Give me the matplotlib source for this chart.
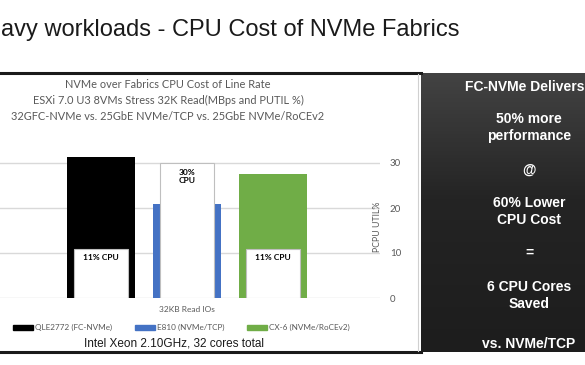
import numpy as np
import matplotlib.pyplot as plt
from matplotlib.lines import Line2D
from matplotlib.patches import Rectangle
from matplotlib.colors import LinearSegmentedColormap

# data
series = ['QLE2772 (FC-NVMe)', 'E810 (NVMe/TCP)', 'CX-6 (NVMe/RoCEv2)']
throughput = [31.3, 20.9, 27.6]   # bar heights, read on the PCPU scale
cpu_util = [11, 30, 11]
cpu_labels = ['11% CPU', '30%\nCPU', '11% CPU']
colors = ['#000000', '#4472C4', '#70AD47']
category = '32KB Read IOs'
yticks = [0, 10, 20, 30]

chart_title = ['NVMe over Fabrics CPU Cost of Line Rate',
               'ESXi 7.0 U3 8VMs Stress 32K Read(MBps and PUTIL %)',
               '32GFC-NVMe vs. 25GbE NVMe/TCP vs. 25GbE NVMe/RoCEv2']
panel_lines = ['FC-NVMe Delivers', '50% more', 'performance', '@',
               '60% Lower', 'CPU Cost', '=', '6 CPU Cores', 'Saved',
               'vs. NVMe/TCP']

W, H = 585, 365
fig = plt.figure(figsize=(W / 100, H / 100), dpi=100)
fig.patch.set_facecolor('white')

def fx(px):
    return px / W

def fy(py):
    return 1 - py / H

gray = '#595959'
cal = ['Lato', 'DejaVu Sans']

# slide title
fig.text(fx(1), fy(30), 'avy workloads - CPU Cost of NVMe Fabrics',
         family='Liberation Sans', fontsize=17, color='#1a1a1a',
         ha='left', va='center')

# frame lines of the chart picture
fig.add_artist(Line2D([0, fx(421)], [fy(72.5)] * 2, color='#1a1a1a', lw=2.2))
fig.add_artist(Line2D([0, fx(421)], [fy(352)] * 2, color='#1a1a1a', lw=2.2))
fig.add_artist(Line2D([fx(418)] * 2, [fy(74), fy(351)], color='#d0d0d0', lw=0.8))

# chart title
for i, line in enumerate(chart_title):
    fig.text(fx(168), fy(84 + 16 * i), line, family=cal, fontsize=7.9,
             color=gray, ha='center', va='center')

# bar chart
ax = fig.add_axes([0, fy(298), fx(380), (298 - 140.5) / H])
x = np.arange(len(series))
ax.bar(x, throughput, width=0.79, color=colors, zorder=2)
ax.bar(x, cpu_util, width=0.62, color='white', edgecolor='#bfbfbf',
       linewidth=0.8, zorder=3)
for xi, v, lab in zip(x, cpu_util, cpu_labels):
    ax.annotate(lab, (xi, v), xytext=(0, -4), textcoords='offset points',
                ha='center', va='top', fontsize=6, fontweight='bold',
                family=cal, linespacing=1.3, zorder=4)

ax.set_xlim(-1.174, 3.244)
ax.set_ylim(0, 35)
ax.set_yticks(yticks)
ax.yaxis.tick_right()
ax.tick_params(axis='y', length=0, pad=7, labelsize=7, labelcolor=gray)
for lab in ax.get_yticklabels():
    lab.set_family(cal)
ax.set_xticks([])
ax.grid(axis='y', color='#d9d9d9', lw=1, zorder=0)
for s in ax.spines.values():
    s.set_visible(False)
ax.patch.set_alpha(0)

fig.text(fx(378), fy(227), 'PCPU UTIL%', rotation=90, family=cal,
         fontsize=6.3, color=gray, ha='center', va='center')
fig.text(fx(187), fy(310), category, family=cal, fontsize=6,
         color=gray, ha='center', va='center')

# legend, laid out by hand like the original
legend_x = [13, 135, 247]
for px, c, name in zip(legend_x, colors, series):
    fig.add_artist(Rectangle((fx(px), fy(329.5)), fx(20), 5 / H,
                             color=c, transform=fig.transFigure))
    fig.text(fx(px + 22), fy(327), name, family=cal, fontsize=5.9,
             color=gray, ha='left', va='center')

fig.text(fx(174), fy(343), 'Intel Xeon 2.10GHz, 32 cores total',
         family='Liberation Sans', fontsize=8.5, color='#1a1a1a',
         ha='center', va='center')

# dark panel on the right
pax = fig.add_axes([fx(421), fy(352), fx(164), (352 - 73) / H])
cmap = LinearSegmentedColormap.from_list(
    'panel', [(0, '#434343'), (0.45, '#242424'), (1, '#1d1d1d')])
pax.imshow(np.linspace(0, 1, 200).reshape(-1, 1), cmap=cmap, aspect='auto',
           extent=[0, 1, 0, 1], origin='upper')
pax.set_xlim(0, 1)
pax.set_ylim(0, 1)
pax.axis('off')

panel_y = [87, 119, 136, 170, 203, 220, 253, 287, 304, 344]
for i, (t, py) in enumerate(zip(panel_lines, panel_y)):
    # first line is wide: pin it to the right edge so it stays in frame
    xpos, ha = (0.995, 'right') if i == 0 else (0.659, 'center')
    pax.text(xpos, (352 - py) / 279, t, transform=pax.transAxes,
             family='Liberation Sans', fontweight='bold', fontsize=10,
             color='white', ha=ha, va='center', clip_on=False)

fig.savefig('out.png', dpi=100)
